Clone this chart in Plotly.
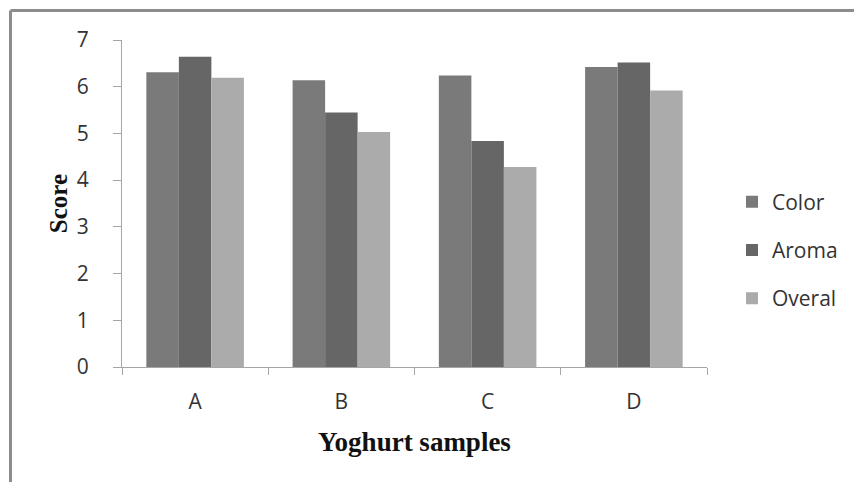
import plotly.graph_objects as go

categories = ["A", "B", "C", "D"]
color_scores = [6.31, 6.14, 6.24, 6.42]
aroma_scores = [6.64, 5.45, 4.84, 6.52]
overal_scores = [6.19, 5.03, 4.28, 5.92]
series_names = ["Color", "Aroma", "Overal"]
series_colors = ["#7a7a7a", "#666666", "#ababab"]
y_ticks = [0, 1, 2, 3, 4, 5, 6, 7]

fig = go.Figure()
for name, vals, col in zip(series_names,
                           [color_scores, aroma_scores, overal_scores],
                           series_colors):
    fig.add_trace(go.Bar(x=categories, y=vals, name=name, legendgroup=name,
                         marker=dict(color=col, line=dict(width=0))))

axis_col = "#a6a6a6"
W, H = 854, 474
L, R, T, B = 114, 155, 32, 115
pw, ph = W - L - R, H - T - B

fig.update_layout(
    width=W, height=H,
    margin=dict(l=L, r=R, t=T, b=B, autoexpand=False),
    paper_bgcolor="white", plot_bgcolor="white",
    barmode="group", bargap=0.333, bargroupgap=0,
    showlegend=True,
    legend=dict(x=(724 - L) / pw, xanchor="left", y=(H - B - 242) / ph, yanchor="middle",
                font=dict(family="Open Sans", size=21, color="#333333"),
                tracegroupgap=18, itemwidth=30, bgcolor="rgba(0,0,0,0)"),
    xaxis=dict(showline=True, linecolor=axis_col, linewidth=1,
               ticks="outside", tickson="boundaries", ticklen=7, tickcolor=axis_col,
               ticklabelstandoff=16,
               tickfont=dict(family="Open Sans", size=21, color="#333333"),
               showgrid=False, zeroline=False,
               title=dict(text="<b>Yoghurt samples</b>", standoff=17,
                          font=dict(family="Liberation Serif", size=27, color="#111111"))),
    yaxis=dict(range=[0, 7], tickvals=y_ticks, showline=True, linecolor=axis_col, linewidth=1,
               ticks="outside", ticklen=8, tickcolor=axis_col, ticklabelstandoff=20,
               tickfont=dict(family="Open Sans", size=21, color="#333333"),
               showgrid=False, zeroline=False,
               title=dict(text="<b>Score</b>", standoff=2,
                          font=dict(family="Liberation Serif", size=25, color="#111111"))),
)

# outer frame (top and left edges)
fx = (2.5 - L) / pw
fy = (H - B - 2.5) / ph
fig.add_shape(type="line", xref="paper", yref="paper", x0=fx, x1=(W - L) / pw + 0.05, y0=fy, y1=fy,
              line=dict(color="#8c8c8c", width=3))
fig.add_shape(type="line", xref="paper", yref="paper", x0=fx, x1=fx, y0=-B / ph - 0.05, y1=fy,
              line=dict(color="#8c8c8c", width=3))

fig.write_html("out.html")
